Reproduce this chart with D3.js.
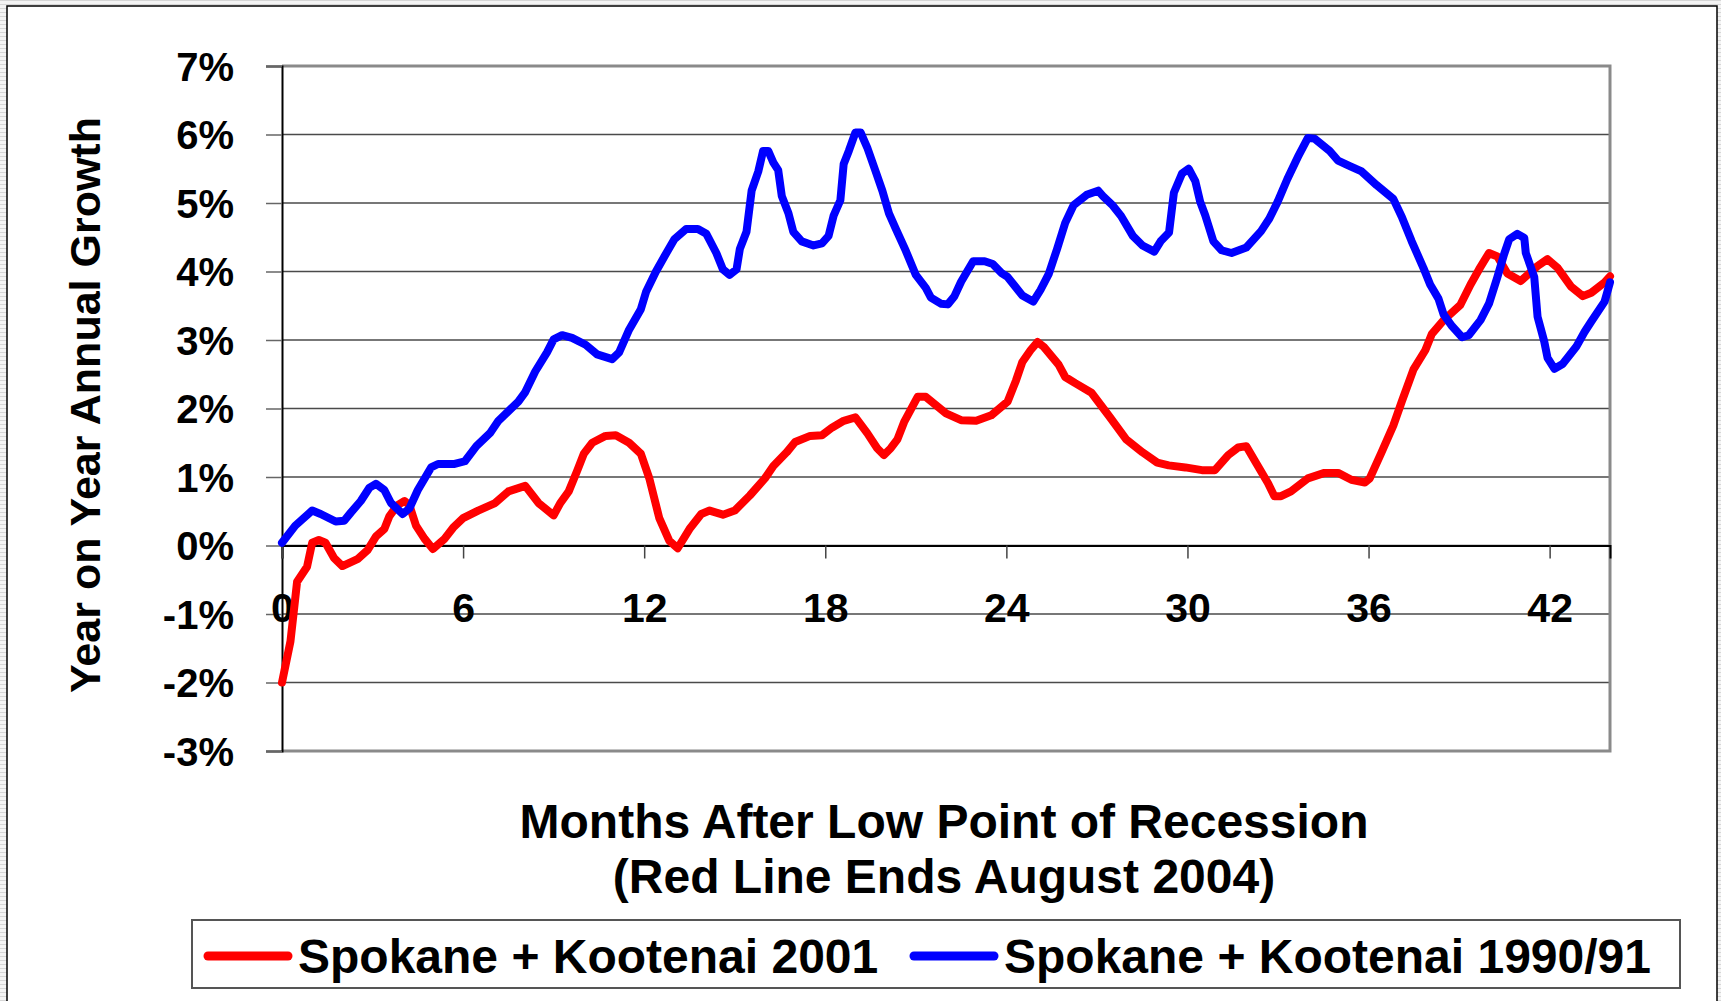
<!DOCTYPE html>
<html lang="en">
<head>
    <meta charset="UTF-8">
    <script src="https://cdnjs.cloudflare.com/ajax/libs/d3/7.8.5/d3.min.js" charset="utf-8"></script>
    <title>Spokane + Kootenai Growth After Recession</title>
    <style>
        html, body { margin: 0; padding: 0; background: #fff; }
        svg { display: block; }
        text { font-family: "Liberation Sans", Arial, sans-serif; font-weight: bold; fill: #000; }
    </style>
</head>
<body>
<svg id="contents" width="1721" height="1001"></svg>
<script>
    // data (months after low point, % growth)
    var redMonths = [0, 0.28, 0.5, 0.83, 1.0, 1.22, 1.44, 1.72, 2.0, 2.5,
        2.83, 3.11, 3.39, 3.56, 3.83, 4.06, 4.22, 4.44, 4.72, 5.0,
        5.39, 5.67, 6.0, 6.5, 7.06, 7.5, 8.06, 8.5, 9.0, 9.22,
        9.5, 9.78, 10.0, 10.28, 10.72, 11.06, 11.5, 11.89, 12.17, 12.5,
        12.83, 13.11, 13.5, 13.89, 14.17, 14.61, 15.0, 15.5, 16.0, 16.28,
        16.72, 17.0, 17.5, 17.89, 18.22, 18.61, 19.0, 19.39, 19.72, 19.94,
        20.17, 20.39, 20.61, 21.06, 21.33, 22.0, 22.5, 23.0, 23.5, 24.04,
        24.32, 24.53, 24.8, 25.03, 25.24, 25.73, 25.95, 26.28, 26.82, 27.42,
        27.97, 28.51, 29.0, 29.38, 29.93, 30.48, 30.91, 31.35, 31.68, 31.95,
        32.28, 32.67, 32.88, 33.1, 33.43, 33.99, 34.54, 34.99, 35.43, 35.88,
        36.04, 36.43, 36.82, 37.1, 37.49, 37.88, 38.1, 38.49, 39.04, 39.38,
        39.66, 39.99, 40.27, 40.6, 41.04, 41.32, 41.6, 41.93, 42.27, 42.71,
        43.1, 43.38, 43.82, 44.0];
    var redValues = [-2.0, -1.4, -0.53, -0.31, 0.04, 0.08, 0.04, -0.18, -0.30, -0.20,
        -0.07, 0.13, 0.24, 0.43, 0.59, 0.65, 0.59, 0.29, 0.10, -0.05,
        0.10, 0.26, 0.40, 0.51, 0.62, 0.79, 0.87, 0.62, 0.44, 0.62,
        0.79, 1.09, 1.34, 1.50, 1.60, 1.61, 1.50, 1.34, 0.98, 0.40,
        0.07, -0.04, 0.24, 0.46, 0.51, 0.45, 0.51, 0.73, 0.98, 1.16,
        1.36, 1.51, 1.60, 1.61, 1.72, 1.82, 1.87, 1.64, 1.42, 1.32,
        1.42, 1.55, 1.80, 2.17, 2.17, 1.93, 1.83, 1.82, 1.90, 2.10,
        2.41, 2.68, 2.85, 2.97, 2.90, 2.64, 2.46, 2.37, 2.23, 1.88,
        1.55, 1.36, 1.21, 1.17, 1.14, 1.10, 1.10, 1.32, 1.43, 1.45,
        1.20, 0.91, 0.72, 0.72, 0.79, 0.98, 1.06, 1.06, 0.96, 0.92,
        0.98, 1.36, 1.75, 2.10, 2.57, 2.85, 3.09, 3.29, 3.51, 3.81,
        4.03, 4.27, 4.22, 3.97, 3.86, 3.97, 4.08, 4.18, 4.05, 3.78,
        3.64, 3.69, 3.84, 3.93];

    var blueMonths = [0, 0.44, 1.0, 1.28, 1.78, 2.06, 2.28, 2.61, 2.89, 3.11,
        3.39, 3.61, 4.0, 4.22, 4.5, 4.94, 5.17, 5.72, 6.06, 6.44,
        6.89, 7.17, 7.83, 8.06, 8.39, 8.78, 9.0, 9.28, 9.61, 10.06,
        10.44, 10.94, 11.17, 11.5, 11.89, 12.06, 12.39, 12.67, 13.0, 13.39,
        13.78, 14.06, 14.39, 14.61, 14.83, 15.06, 15.17, 15.39, 15.56, 15.78,
        15.94, 16.11, 16.28, 16.44, 16.56, 16.78, 16.94, 17.22, 17.61, 17.89,
        18.11, 18.28, 18.5, 18.61, 18.78, 19.0, 19.17, 19.39, 19.67, 19.89,
        20.11, 20.33, 20.67, 21.0, 21.33, 21.5, 21.83, 22.06, 22.28, 22.5,
        22.9, 23.28, 23.55, 23.83, 24.04, 24.53, 24.89, 25.13, 25.41, 25.68,
        25.95, 26.23, 26.66, 27.04, 27.2, 27.53, 27.8, 28.19, 28.51, 28.9,
        29.11, 29.39, 29.55, 29.82, 30.04, 30.26, 30.42, 30.59, 30.86, 31.13,
        31.46, 31.95, 32.44, 32.71, 32.99, 33.31, 33.69, 33.99, 34.21, 34.71,
        34.99, 35.38, 35.77, 36.27, 36.82, 37.1, 37.43, 37.82, 38.04, 38.32,
        38.49, 38.77, 39.1, 39.32, 39.71, 39.99, 40.27, 40.49, 40.66, 40.93,
        41.16, 41.21, 41.49, 41.6, 41.82, 41.93, 42.16, 42.43, 42.88, 43.16,
        43.38, 43.82, 44.0];
    var blueValues = [0.04, 0.29, 0.51, 0.46, 0.35, 0.36, 0.48, 0.65, 0.84, 0.90,
        0.81, 0.62, 0.46, 0.54, 0.81, 1.14, 1.19, 1.19, 1.23, 1.45,
        1.64, 1.82, 2.10, 2.24, 2.54, 2.82, 3.01, 3.07, 3.03, 2.93,
        2.79, 2.72, 2.82, 3.15, 3.45, 3.70, 4.0, 4.22, 4.47, 4.62,
        4.62, 4.55, 4.27, 4.03, 3.95, 4.03, 4.33, 4.58, 5.18, 5.46,
        5.76, 5.76, 5.59, 5.48, 5.10, 4.85, 4.58, 4.44, 4.38, 4.41,
        4.52, 4.82, 5.04, 5.57, 5.76, 6.03, 6.03, 5.81, 5.46, 5.18,
        4.85, 4.63, 4.30, 3.95, 3.76, 3.62, 3.53, 3.52, 3.64, 3.85,
        4.15, 4.15, 4.11, 3.98, 3.92, 3.65, 3.56, 3.73, 3.97, 4.33,
        4.71, 4.97, 5.12, 5.18, 5.10, 4.96, 4.81, 4.52, 4.38, 4.29,
        4.44, 4.57, 5.15, 5.43, 5.50, 5.32, 5.02, 4.82, 4.44, 4.31,
        4.27, 4.35, 4.59, 4.77, 5.02, 5.35, 5.70, 5.95, 5.94, 5.76,
        5.62, 5.54, 5.46, 5.26, 5.06, 4.80, 4.44, 4.05, 3.81, 3.60,
        3.37, 3.20, 3.04, 3.07, 3.29, 3.53, 3.92, 4.25, 4.47, 4.55,
        4.49, 4.27, 3.92, 3.34, 2.98, 2.74, 2.58, 2.65, 2.90, 3.12,
        3.27, 3.56, 3.84];

    var xTicks = [0, 6, 12, 18, 24, 30, 36, 42];
    var yTicks = [-3, -2, -1, 0, 1, 2, 3, 4, 5, 6, 7];

    var seriesNames = ['Spokane + Kootenai 2001', 'Spokane + Kootenai 1990/91'];
    var seriesColors = ['#ff0000', '#0000ff'];

    var svg = d3.select('#contents');

    // striped frame outside the chart area, like the slide it was taken from
    var defs = svg.append('defs');
    var stripes = defs.append('pattern')
            .attr('id', 'stripes')
            .attr('width', 4).attr('height', 4)
            .attr('patternUnits', 'userSpaceOnUse');
    stripes.append('rect').attr('width', 4).attr('height', 4).attr('fill', '#f4f4f4');
    stripes.append('rect').attr('width', 4).attr('height', 1).attr('fill', '#d6d6d6');

    svg.append('rect')
            .attr('width', 1721).attr('height', 1001)
            .attr('fill', 'url(#stripes)');
    svg.append('rect')
            .attr('x', 7).attr('y', 6)
            .attr('width', 1710).attr('height', 1010)
            .attr('fill', '#fff')
            .attr('stroke', '#000')
            .attr('stroke-width', 1.5);

    // plot area (window.top is reserved, so no bare "top")
    var plotLeft = 282, plotRight = 1610, plotTop = 66, plotBottom = 751;

    var x = d3.scaleLinear().domain([0, 44]).range([plotLeft, plotRight]);
    var y = d3.scaleLinear().domain([-3, 7]).range([plotBottom, plotTop]);

    // gridlines
    svg.append('g')
            .attr('class', 'grid')
            .selectAll('line')
            .data(yTicks.filter(function(d) { return d !== 7 && d !== -3; }))
            .enter().append('line')
            .attr('x1', plotLeft).attr('x2', plotRight)
            .attr('y1', function(d) { return y(d); })
            .attr('y2', function(d) { return y(d); })
            .attr('stroke', '#4a4a4a')
            .attr('stroke-width', 1.5);

    // plot frame (grey)
    svg.append('path')
            .attr('d', 'M' + [plotLeft, y(7)] + 'H' + plotRight + 'V' + y(-3) + 'H' + plotLeft)
            .attr('fill', 'none')
            .attr('stroke', '#8a8a8a')
            .attr('stroke-width', 3);

    // y axis
    var yAxis = d3.axisLeft(y)
            .tickValues(yTicks)
            .tickSize(16)
            .tickPadding(32)
            .tickFormat(function(d) { return d + '%'; });
    var yg = svg.append('g')
            .attr('transform', 'translate(' + plotLeft + ',0)')
            .call(yAxis);
    yg.select('.domain').attr('stroke', '#000').attr('stroke-width', 2);
    yg.selectAll('.tick line').attr('stroke', '#666').attr('stroke-width', 1.5);
    yg.selectAll('.tick text')
            .attr('font-size', 40)
            .attr('font-family', '"Liberation Sans", Arial, sans-serif')
            .attr('font-weight', 'bold')
            .attr('fill', '#000')
            .attr('dy', '0.36em');

    // x axis sits on the 0% line
    var xAxis = d3.axisBottom(x)
            .tickValues(xTicks)
            .tickSize(13)
            .tickPadding(34)
            .tickFormat(d3.format('d'));
    var xg = svg.append('g')
            .attr('transform', 'translate(0,' + y(0) + ')')
            .call(xAxis);
    xg.select('.domain').attr('stroke', '#000').attr('stroke-width', 2);
    xg.selectAll('.tick line').attr('stroke', '#444').attr('stroke-width', 1.5);
    xg.selectAll('.tick text')
            .attr('font-size', 41)
            .attr('font-family', '"Liberation Sans", Arial, sans-serif')
            .attr('font-weight', 'bold')
            .attr('fill', '#000');

    // series, blue drawn last so it sits on top where they cross
    var series = [
        { months: redMonths, values: redValues, color: seriesColors[0] },
        { months: blueMonths, values: blueValues, color: seriesColors[1] }
    ];
    var line = d3.line()
            .x(function(d) { return x(d[0]); })
            .y(function(d) { return y(d[1]); });

    svg.append('g')
            .selectAll('path')
            .data(series)
            .enter().append('path')
            .attr('d', function(d) { return line(d3.zip(d.months, d.values)); })
            .attr('fill', 'none')
            .attr('stroke', function(d) { return d.color; })
            .attr('stroke-width', 8)
            .attr('stroke-linejoin', 'round')
            .attr('stroke-linecap', 'round');

    // axis titles
    svg.append('text')
            .attr('transform', 'translate(100,405) rotate(-90)')
            .attr('text-anchor', 'middle')
            .attr('font-size', 43)
            .text('Year on Year Annual Growth');

    svg.append('text')
            .attr('x', 944).attr('y', 838)
            .attr('text-anchor', 'middle')
            .attr('font-size', 48)
            .text('Months After Low Point of Recession');
    svg.append('text')
            .attr('x', 944).attr('y', 893)
            .attr('text-anchor', 'middle')
            .attr('font-size', 48)
            .text('(Red Line Ends August 2004)');

    // legend
    var legend = svg.append('g');
    legend.append('rect')
            .attr('x', 192).attr('y', 920)
            .attr('width', 1488).attr('height', 68)
            .attr('fill', '#fff')
            .attr('stroke', '#555')
            .attr('stroke-width', 2);

    var legendX = [208, 914];
    var item = legend.selectAll('.item')
            .data(seriesNames)
            .enter().append('g')
            .attr('class', 'item')
            .attr('transform', function(d, i) { return 'translate(' + legendX[i] + ',956)'; });
    item.append('line')
            .attr('x1', 0).attr('x2', 80)
            .attr('stroke', function(d, i) { return seriesColors[i]; })
            .attr('stroke-width', 9)
            .attr('stroke-linecap', 'round');
    item.append('text')
            .attr('x', 90)
            .attr('y', 17)
            .attr('font-size', 48)
            .text(function(d) { return d; });
</script>
</body>
</html>
